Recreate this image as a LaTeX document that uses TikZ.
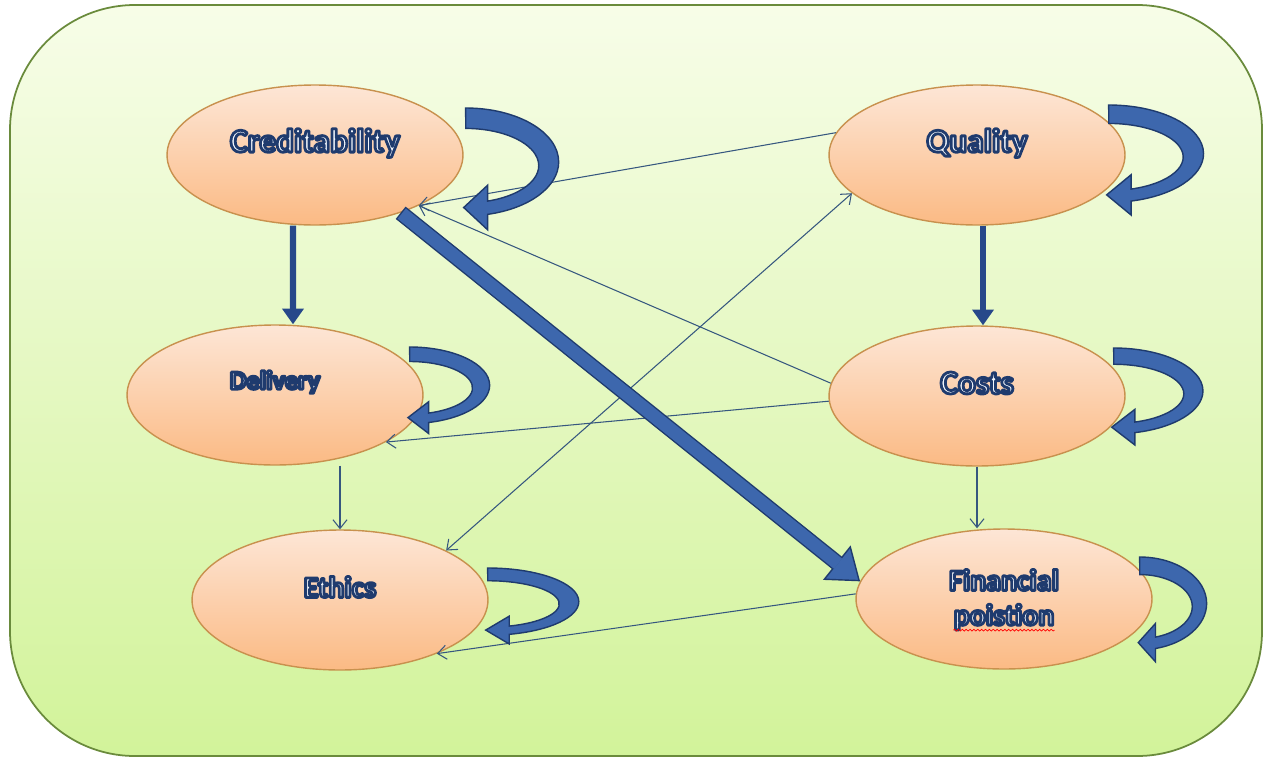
\documentclass[tikz,border=0pt]{standalone}
\usepackage{fontspec}
\setmainfont{Carlito}
\usetikzlibrary{positioning,calc,arrows.meta,shapes.geometric,decorations.pathmorphing}

\definecolor{panelline}{HTML}{6A8B3C}
\definecolor{paneltop}{HTML}{F7FDE8}
\definecolor{panelbot}{HTML}{D2F39A}
\definecolor{ovaltop}{HTML}{FDE6D6}
\definecolor{ovalbot}{HTML}{FBBA84}
\definecolor{ovalline}{HTML}{C8914E}
\definecolor{navy}{HTML}{1F3B6E}
\definecolor{shaftblue}{HTML}{27488A}
\definecolor{bandblue}{HTML}{3D67AD}
\definecolor{linkblue}{HTML}{36577F}
\definecolor{letterfill}{HTML}{F2F6FC}

% outlined letters: fill in the text colour, stroke in navy
\newcommand{\outlined}[1]{\special{pdf:code q 2 Tr 1.6 w 1 j 0.12 0.23 0.43 RG}#1\special{pdf:code Q}}

\newcommand{\selfloop}[5]{%
  \begin{scope}[shift={($(#1.east)+(#2,#3)$)}, xscale=#4, yscale=-#5]
    \filldraw[loopband] (0,0) arc[start angle=90, end angle=-76.3, x radius=93, y radius=58]
      -- (22,-131) -- (-2,-107) -- (22,-83) -- (22,-100.1)
      arc[start angle=-72.5, end angle=90, x radius=73, y radius=40] -- cycle;
  \end{scope}}

\begin{document}
\begin{tikzpicture}[x=0.02cm, y=-0.02cm,
    panel/.style={draw=panelline, line width=1pt, top color=paneltop, bottom color=panelbot, rounded corners=2.5cm},
    ovalbox/.style={ellipse, draw=ovalline, line width=0.8pt, top color=ovaltop, bottom color=ovalbot,
      minimum width=5.92cm, minimum height=2.8cm, inner sep=0pt},
    lbl/.style={inner sep=0pt, text=letterfill, font=\bfseries\fontsize{#1pt}{#1pt}\selectfont},
    thinlink/.style={draw=linkblue, line width=0.6pt},
    >={Straight Barb[length=5pt,width=8pt]},
    thickarrow/.style={draw=shaftblue, line width=3.6pt, -{Triangle[length=9pt,width=12pt]}},
    bigarrow/.style={draw=navy, line width=9pt, -{Triangle[length=17pt,width=25pt,line width=0.8pt,fill=bandblue]}},
    bigcore/.style={draw=bandblue, line width=7.4pt, shorten <=0.8pt, shorten >=16pt},
    loopband/.style={draw=navy, line width=0.8pt, fill=bandblue},
    spellmark/.style={draw=red, line width=0.4pt, decorate, decoration={snake, amplitude=0.5pt, segment length=2.2pt}}]

    \useasboundingbox (0,0) rectangle (1267,761);
    \draw[panel] (10,5) rectangle (1262,756);

    \node[ovalbox] (cred) at (315,155) {};
    \node[ovalbox] (qual) at (977,155) {};
    \node[ovalbox] (deliv) at (275,395) {};
    \node[ovalbox] (costs) at (977,396) {};
    \node[ovalbox] (ethics) at (340,600) {};
    \node[ovalbox] (fin) at (1004,599) {};

    \draw[thinlink,->] (qual.171) -- (cred.-26);
    \draw[thinlink,->] (costs.175) -- (cred.-26);
    \draw[thinlink,->] (costs.182) -- (deliv.-23);
    \draw[thinlink,<->] (ethics.25) -- (qual.197);
    \draw[thinlink,->] (fin.178) -- (ethics.-29);
    \draw[thinlink,->] (deliv.south -| ethics.north) -- (ethics.north);
    \draw[thinlink,->] (costs.south) -- (costs.south |- fin.north);

    \draw[thickarrow] ([xshift=-0.44cm]cred.south) -- ([xshift=0.36cm]deliv.north);
    \draw[thickarrow] ([xshift=0.12cm]qual.south) -- ([xshift=0.12cm]costs.north);
    \draw[bigarrow] (cred.-34) -- (fin.173);
    \draw[bigcore] (cred.-34) -- (fin.173);

    \selfloop{cred}{2}{-47}{1}{0.93}
    \selfloop{qual}{-17}{-50}{1.02}{0.84}
    \selfloop{deliv}{-14}{-48}{0.86}{0.66}
    \selfloop{costs}{-12}{-48}{0.96}{0.74}
    \selfloop{ethics}{-1}{-32}{0.98}{0.58}
    \selfloop{fin}{-13}{-42}{0.72}{0.80}

    \node[lbl=19] (credtxt) at ([yshift=0.24cm]cred.center) {\outlined{Creditability}};
    \node[lbl=19] (qualtxt) at ([yshift=0.24cm]qual.center) {\outlined{Quality}};
    \node[lbl=15] (delivtxt) at ([yshift=0.26cm]deliv.center) {\outlined{Delivery}};
    \node[lbl=19] (coststxt) at ([yshift=0.26cm]costs.center) {\outlined{Costs}};
    \node[lbl=17] (ethicstxt) at ([yshift=0.26cm]ethics.center) {\outlined{Ethics}};
    \node[lbl=17] (fintxt) at ([yshift=0.38cm]fin.center) {\outlined{Financial}};
    \node[lbl=17] (postxt) at ([yshift=-0.36cm]fin.center) {\outlined{poistion}};
    \draw[spellmark] ($(postxt.base west)+(0,5)$) -- ($(postxt.base east)+(0,5)$);
\end{tikzpicture}
\end{document}
